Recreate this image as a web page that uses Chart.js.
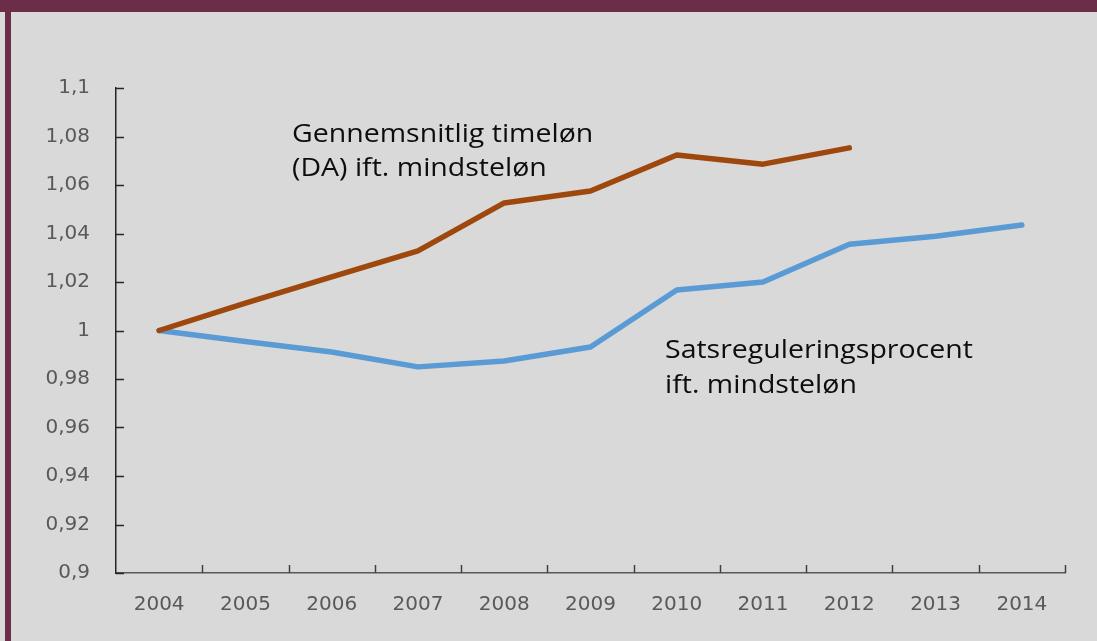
<!DOCTYPE html>
<html>
<head>
<meta charset="utf-8">
<script src="https://cdn.jsdelivr.net/npm/chart.js@4.4.0/dist/chart.umd.min.js"></script>
<style>
  html, body { margin: 0; padding: 0; }
  body { width: 1097px; height: 641px; background: #d9d9d9; position: relative; overflow: hidden; }
  .top-bar { position: absolute; left: 0; top: 0; width: 1097px; height: 12px; background: #6b2d47; }
  .left-bar { position: absolute; left: 5px; top: 0; width: 6px; height: 641px; background: #6b2d47; }
  #wrap { position: absolute; left: 0; top: 0; width: 1097px; height: 641px; }
</style>
</head>
<body>
<div class="top-bar"></div>
<div class="left-bar"></div>
<div id="wrap"><canvas id="chart"></canvas></div>
<script>
const years = ["2004", "2005", "2006", "2007", "2008", "2009", "2010", "2011", "2012", "2013", "2014"];
const timelonRatio = [1.0, 1.0113, 1.0221, 1.0328, 1.0526, 1.0575, 1.0724, 1.0686, 1.0753, null, null];
const satsRatio = [1.0, 0.9955, 0.9911, 0.985, 0.9874, 0.9932, 1.0167, 1.02, 1.0356, 1.0389, 1.0435];
const yMin = 0.9;
const yMax = 1.1;
const yStep = 0.02;

const labelTimelon = ["Gennemsnitlig timeløn", "(DA) ift. mindsteløn"];
const labelSats = ["Satsreguleringsprocent", "ift. mindsteløn"];

const ctx = document.getElementById("chart").getContext("2d");

// tick marks drawn inside the plot, like the original
const innerTicks = {
  id: "innerTicks",
  afterDraw(chart) {
    const c = chart.ctx;
    const x = chart.scales.x;
    const y = chart.scales.y;
    const area = chart.chartArea;
    c.save();
    c.lineWidth = 1.5;
    c.strokeStyle = "#262626";
    y.ticks.forEach((t) => {
      const py = Math.round(y.getPixelForValue(t.value)) + 0.5;
      c.beginPath();
      c.moveTo(area.left, py);
      c.lineTo(area.left + 8, py);
      c.stroke();
    });
    c.strokeStyle = "#404040";
    const step = x.getPixelForValue(1) - x.getPixelForValue(0);
    for (let i = 0; i < years.length; i++) {
      const px = Math.round(x.getPixelForValue(i) + step / 2) + 0.5;
      c.beginPath();
      c.moveTo(px, area.bottom);
      c.lineTo(px, area.bottom - 8);
      c.stroke();
    }
    c.restore();
  },
};

// text labels next to the lines (slightly wide font, as in the original)
function wideText(c, s, x, y) {
  c.save();
  c.translate(x, y);
  c.scale(1.14, 1);
  c.fillText(s, 0, 0);
  c.restore();
}

const lineLabels = {
  id: "lineLabels",
  afterDatasetsDraw(chart) {
    const c = chart.ctx;
    c.save();
    c.font = "25px 'Open Sans'";
    c.fillStyle = "#0d0d0d";
    c.textAlign = "left";
    c.textBaseline = "alphabetic";
    labelTimelon.forEach((s, i) => wideText(c, s, 292, 142 + i * 34));
    labelSats.forEach((s, i) => wideText(c, s, 665, 358 + i * 35));
    c.restore();
  },
};

new Chart(ctx, {
  type: "line",
  data: {
    labels: years,
    datasets: [
      {
        label: "Gennemsnitlig timeløn (DA) ift. mindsteløn",
        data: timelonRatio,
        borderColor: "#9e480e",
        borderWidth: 5.5,
        borderCapStyle: "round",
        borderJoinStyle: "round",
        pointRadius: 0,
        tension: 0,
        spanGaps: false,
      },
      {
        label: "Satsreguleringsprocent ift. mindsteløn",
        data: satsRatio,
        borderColor: "#5b9bd5",
        borderWidth: 5.5,
        borderCapStyle: "round",
        borderJoinStyle: "round",
        pointRadius: 0,
        tension: 0,
      },
    ],
  },
  options: {
    responsive: true,
    maintainAspectRatio: false,
    animation: false,
    layout: { padding: { top: 88, right: 32, left: 0, bottom: 0 } },
    plugins: {
      legend: { display: false },
      tooltip: { enabled: false },
    },
    scales: {
      x: {
        offset: true,
        grid: { display: false, drawTicks: false },
        border: { display: true, color: "#595959", width: 1.5 },
        ticks: {
          color: "#595959",
          font: { family: "'DejaVu Sans'", size: 20 },
          padding: 20,
          maxRotation: 0,
        },
        afterFit(scale) {
          scale.height = 68;
        },
      },
      y: {
        min: yMin,
        max: yMax,
        grid: { display: false, drawTicks: false },
        border: { display: true, color: "#262626", width: 1.5 },
        ticks: {
          stepSize: yStep,
          color: "#595959",
          font: { family: "'DejaVu Sans'", size: 20 },
          padding: 26,
          callback: (v) => String(Number(v.toFixed(2))).replace(".", ","),
        },
        afterFit(scale) {
          scale.width = 116;
        },
      },
    },
  },
  plugins: [innerTicks, lineLabels],
});
</script>
</body>
</html>
